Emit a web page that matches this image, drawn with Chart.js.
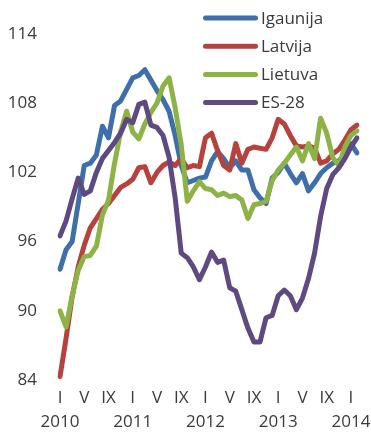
<!DOCTYPE html>
<html>
<head>
<meta charset="utf-8">
<script src="https://cdn.jsdelivr.net/npm/chart.js@4.4.0/dist/chart.umd.min.js"></script>
<style>
  body { margin: 0; background: #fff; }
  .chart-box { position: relative; width: 371px; height: 432px; }
</style>
</head>
<body>
<div class="chart-box"><canvas id="chart"></canvas></div>
<script>
// monthly index, I.2010 .. II.2014
const years = ['2010', '2011', '2012', '2013', '2014'];
const monthTicks = ['I', '', '', '', 'V', '', '', '', 'IX', '', '', ''];

const igaunija = [93.6, 95.3, 96.0, 99.3, 102.6, 102.8, 103.5, 106.0, 105.0, 107.8,
  108.2, 109.2, 110.2, 110.4, 110.9, 110.0, 109.1, 108.3, 107.3, 105.2,
  102.6, 101.1, 101.3, 101.5, 101.6, 103.0, 103.8, 103.2, 102.4, 103.0,
  102.2, 102.2, 100.5, 99.8, 99.3, 101.5, 102.0, 102.8, 101.9, 101.1,
  101.9, 100.4, 101.1, 101.9, 102.4, 102.8, 103.0, 103.6, 104.5, 103.7];
const latvija = [84.3, 87.6, 91.2, 93.8, 95.7, 97.2, 98.0, 98.8, 99.3, 100.0,
  100.7, 101.0, 101.4, 102.4, 102.5, 101.1, 102.0, 102.6, 102.9, 102.6,
  103.2, 102.4, 102.6, 102.5, 105.0, 105.4, 103.9, 102.6, 102.2, 104.5,
  102.8, 104.0, 104.2, 104.1, 104.0, 105.0, 106.6, 106.2, 105.2, 104.3,
  104.2, 104.3, 104.1, 102.8, 103.0, 103.6, 104.0, 104.8, 105.7, 106.1];
const lietuva = [90.0, 88.6, 91.3, 93.5, 94.7, 94.8, 95.6, 98.3, 99.6, 102.8,
  105.5, 107.3, 105.5, 104.9, 106.2, 107.2, 108.0, 109.5, 110.2, 107.6,
  104.4, 99.5, 100.4, 101.2, 100.6, 100.5, 100.0, 100.2, 99.9, 100.0,
  99.6, 98.0, 99.2, 99.3, 99.5, 101.3, 102.2, 102.8, 103.5, 104.2,
  103.0, 104.5, 103.2, 106.7, 105.4, 103.3, 102.6, 104.2, 105.2, 105.6];
const es28 = [96.5, 97.8, 99.7, 101.5, 100.1, 100.4, 102.0, 103.2, 103.9, 104.6,
  105.4, 106.6, 106.3, 107.9, 108.1, 106.1, 105.9, 105.2, 103.3, 99.8,
  95.0, 94.6, 93.8, 92.7, 93.8, 95.1, 94.2, 94.4, 92.0, 91.7,
  90.1, 88.5, 87.3, 87.3, 89.4, 89.6, 91.3, 91.8, 91.3, 90.1,
  91.1, 92.8, 95.0, 98.2, 100.6, 101.8, 102.4, 103.2, 104.2, 105.0];

const labels = igaunija.map((v, i) => {
  const m = i % 12;
  return m === 0 ? ['I', years[Math.floor(i / 12)]] : monthTicks[m];
});

const textColor = '#3a3a3a';
const fontFamily = '"Open Sans", "Noto Sans", sans-serif';

// legend sits inside the plot, top right, with line swatches
const lineLegend = {
  id: 'lineLegend',
  afterDraw(chart) {
    const { ctx } = chart;
    ctx.save();
    ctx.font = `17px ${fontFamily}`;
    ctx.textBaseline = 'middle';
    ctx.lineCap = 'round';
    ctx.lineWidth = 5;
    chart.data.datasets.forEach((ds, i) => {
      const y = 18 + i * 28.2;
      ctx.strokeStyle = ds.borderColor;
      ctx.beginPath();
      ctx.moveTo(205.5, y);
      ctx.lineTo(255.5, y);
      ctx.stroke();
      ctx.fillStyle = textColor;
      ctx.fillText(ds.label, 261, y + 1);
    });
    ctx.restore();
  },
};

function series(label, data, color, order) {
  return {
    label,
    data,
    order,
    borderColor: color,
    backgroundColor: color,
    borderWidth: 5,
    borderJoinStyle: 'round',
    borderCapStyle: 'round',
    pointRadius: 0,
    tension: 0,
  };
}

new Chart(document.getElementById('chart'), {
  type: 'line',
  data: {
    labels,
    datasets: [
      series('Igaunija', igaunija, '#3e6fab', 4),
      series('Latvija', latvija, '#b5423d', 3),
      series('Lietuva', lietuva, '#8db347', 2),
      series('ES-28', es28, '#5e4a80', 1),
    ],
  },
  options: {
    responsive: true,
    maintainAspectRatio: false,
    animation: false,
    layout: {
      padding: { top: 34, right: 14, left: 0, bottom: 0 },
    },
    scales: {
      x: {
        grid: { display: false, drawTicks: false },
        border: { display: false },
        ticks: {
          autoSkip: false,
          maxRotation: 0,
          padding: 6,
          color: textColor,
          font: { family: fontFamily, size: 17, lineHeight: '24px' },
        },
        afterFit(scale) {
          scale.height = 52;
        },
      },
      y: {
        min: 84,
        max: 114,
        grid: { display: false, drawTicks: false },
        border: { display: false },
        ticks: {
          stepSize: 6,
          padding: 23,
          color: textColor,
          font: { family: fontFamily, size: 17 },
        },
        afterFit(scale) {
          scale.width = 60;
        },
      },
    },
    plugins: {
      legend: { display: false },
      tooltip: { enabled: false },
    },
  },
  plugins: [lineLegend],
});
</script>
</body>
</html>
